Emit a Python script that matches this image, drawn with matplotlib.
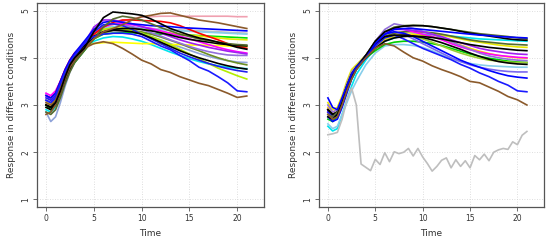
import matplotlib
matplotlib.use("Agg")
import matplotlib.pyplot as plt

time = [0, 0.5, 1, 1.5, 2, 2.5, 3, 4, 5, 6, 7, 8, 9, 10, 11, 12, 13, 14, 15, 16, 17, 18, 19, 20, 21]

# ---------------- left panel series ----------------
left_black1 = [3.0, 2.95, 3.05, 3.3, 3.6, 3.85, 4.0, 4.2, 4.55, 4.85, 4.97, 4.95, 4.93, 4.9, 4.82, 4.72, 4.62, 4.55, 4.48, 4.42, 4.38, 4.33, 4.28, 4.22, 4.18]
left_brown1 = [2.8, 2.85, 3.0, 3.25, 3.55, 3.8, 3.95, 4.2, 4.4, 4.55, 4.62, 4.7, 4.8, 4.87, 4.9, 4.94, 4.95, 4.9, 4.85, 4.8, 4.77, 4.74, 4.7, 4.66, 4.62]
left_pink = [3.0, 3.0, 3.1, 3.35, 3.6, 3.85, 4.0, 4.2, 4.45, 4.6, 4.7, 4.78, 4.83, 4.86, 4.87, 4.88, 4.88, 4.88, 4.88, 4.88, 4.88, 4.88, 4.88, 4.87, 4.87]
left_blue1 = [3.2, 3.15, 3.25, 3.5, 3.75, 3.95, 4.1, 4.35, 4.6, 4.75, 4.78, 4.75, 4.72, 4.7, 4.68, 4.67, 4.66, 4.64, 4.63, 4.62, 4.61, 4.6, 4.59, 4.58, 4.57]
left_purple = [3.2, 3.1, 3.2, 3.45, 3.7, 3.9, 4.05, 4.3, 4.65, 4.8, 4.8, 4.76, 4.72, 4.66, 4.6, 4.52, 4.45, 4.38, 4.32, 4.27, 4.22, 4.18, 4.14, 4.11, 4.08]
left_magenta = [3.25, 3.2, 3.3, 3.5, 3.75, 3.95, 4.1, 4.3, 4.5, 4.65, 4.72, 4.72, 4.7, 4.66, 4.62, 4.57, 4.52, 4.46, 4.4, 4.34, 4.28, 4.22, 4.17, 4.13, 4.1]
left_red = [3.2, 3.15, 3.25, 3.5, 3.75, 3.95, 4.1, 4.3, 4.5, 4.65, 4.75, 4.8, 4.8, 4.79, 4.78, 4.77, 4.74, 4.68, 4.6, 4.52, 4.45, 4.38, 4.3, 4.24, 4.2]
left_green = [3.0, 2.9, 3.0, 3.25, 3.5, 3.75, 3.9, 4.15, 4.4, 4.5, 4.52, 4.53, 4.53, 4.52, 4.51, 4.5, 4.5, 4.49, 4.48, 4.47, 4.46, 4.45, 4.44, 4.43, 4.42]
left_yellow1 = [3.1, 3.05, 3.15, 3.4, 3.7, 3.95, 4.1, 4.25, 4.3, 4.32, 4.33, 4.32, 4.31, 4.3, 4.3, 4.29, 4.28, 4.28, 4.27, 4.27, 4.26, 4.26, 4.25, 4.24, 4.24]
left_yellow2 = [3.1, 3.0, 3.1, 3.35, 3.65, 3.9, 4.05, 4.3, 4.5, 4.6, 4.62, 4.63, 4.62, 4.6, 4.58, 4.55, 4.52, 4.5, 4.48, 4.46, 4.44, 4.42, 4.4, 4.39, 4.38]
left_skyblue = [3.0, 2.95, 3.05, 3.3, 3.6, 3.85, 4.0, 4.25, 4.5, 4.62, 4.66, 4.66, 4.65, 4.63, 4.61, 4.6, 4.58, 4.57, 4.56, 4.55, 4.54, 4.53, 4.52, 4.51, 4.5]
left_black2 = [3.0, 2.95, 3.05, 3.3, 3.6, 3.85, 4.0, 4.25, 4.45, 4.55, 4.6, 4.62, 4.62, 4.6, 4.57, 4.53, 4.48, 4.43, 4.39, 4.36, 4.33, 4.3, 4.28, 4.26, 4.25]
left_olive1 = [2.85, 2.8, 2.9, 3.15, 3.45, 3.7, 3.9, 4.15, 4.4, 4.65, 4.82, 4.88, 4.85, 4.8, 4.72, 4.64, 4.57, 4.5, 4.45, 4.4, 4.36, 4.33, 4.3, 4.28, 4.27]
left_olive2 = [3.0, 2.95, 3.05, 3.3, 3.55, 3.8, 3.95, 4.2, 4.4, 4.52, 4.58, 4.6, 4.58, 4.55, 4.5, 4.44, 4.37, 4.3, 4.22, 4.15, 4.07, 4.0, 3.94, 3.89, 3.85]
left_steel = [2.85, 2.65, 2.75, 3.05, 3.4, 3.7, 3.9, 4.15, 4.4, 4.55, 4.6, 4.58, 4.55, 4.5, 4.45, 4.38, 4.3, 4.23, 4.16, 4.09, 4.03, 3.98, 3.94, 3.91, 3.9]
left_blue2 = [3.15, 3.1, 3.2, 3.45, 3.7, 3.9, 4.05, 4.3, 4.55, 4.7, 4.72, 4.68, 4.6, 4.5, 4.4, 4.3, 4.2, 4.1, 4.02, 3.95, 3.88, 3.82, 3.77, 3.73, 3.7]
left_black3 = [2.95, 2.9, 3.0, 3.25, 3.5, 3.75, 3.95, 4.2, 4.45, 4.55, 4.58, 4.57, 4.55, 4.5, 4.42, 4.33, 4.24, 4.15, 4.07, 4.0, 3.94, 3.88, 3.83, 3.79, 3.76]
left_ygreen = [3.1, 3.05, 3.15, 3.4, 3.65, 3.9, 4.05, 4.3, 4.5, 4.6, 4.63, 4.62, 4.58, 4.52, 4.45, 4.37, 4.28, 4.18, 4.08, 3.98, 3.88, 3.78, 3.7, 3.62, 3.55]
left_blue3 = [3.1, 3.05, 3.15, 3.4, 3.65, 3.9, 4.05, 4.3, 4.45, 4.5, 4.52, 4.52, 4.5, 4.45, 4.35, 4.25, 4.17, 4.05, 3.94, 3.8, 3.72, 3.6, 3.47, 3.3, 3.28]
left_brown2 = [3.05, 3.0, 3.1, 3.35, 3.6, 3.85, 4.0, 4.2, 4.3, 4.34, 4.3, 4.2, 4.08, 3.95, 3.87, 3.75, 3.69, 3.6, 3.53, 3.46, 3.41, 3.33, 3.25, 3.16, 3.19]
left_mpurple = [3.1, 3.05, 3.15, 3.4, 3.65, 3.9, 4.05, 4.3, 4.55, 4.68, 4.72, 4.7, 4.66, 4.6, 4.53, 4.46, 4.38, 4.31, 4.24, 4.18, 4.13, 4.09, 4.06, 4.05, 4.05]
left_cyan = [2.9, 2.85, 2.95, 3.2, 3.5, 3.75, 3.95, 4.2, 4.35, 4.42, 4.45, 4.44, 4.4, 4.35, 4.28, 4.2, 4.12, 4.05, 3.98, 3.92, 3.87, 3.83, 3.8, 3.78, 3.77]
left_gray = [3.05, 3.0, 3.1, 3.35, 3.6, 3.85, 4.0, 4.25, 4.45, 4.55, 4.6, 4.62, 4.63, 4.63, 4.62, 4.61, 4.6, 4.59, 4.58, 4.57, 4.56, 4.55, 4.54, 4.53, 4.52]

# ---------------- right panel series ----------------
right_blue1 = [3.15, 2.95, 2.9, 3.15, 3.4, 3.65, 3.8, 4.0, 4.3, 4.5, 4.6, 4.62, 4.62, 4.6, 4.58, 4.56, 4.54, 4.52, 4.5, 4.48, 4.47, 4.45, 4.44, 4.43, 4.42]
right_olive1 = [2.8, 2.75, 2.85, 3.1, 3.4, 3.65, 3.8, 4.05, 4.35, 4.55, 4.65, 4.68, 4.69, 4.68, 4.66, 4.63, 4.6, 4.57, 4.54, 4.51, 4.49, 4.47, 4.45, 4.42, 4.4]
right_black1 = [2.75, 2.7, 2.8, 3.05, 3.35, 3.6, 3.78, 4.05, 4.35, 4.55, 4.63, 4.67, 4.68, 4.68, 4.66, 4.63, 4.6, 4.56, 4.52, 4.49, 4.46, 4.43, 4.4, 4.38, 4.37]
right_skyblue = [2.55, 2.45, 2.5, 2.8, 3.1, 3.4, 3.65, 3.95, 4.2, 4.35, 4.42, 4.47, 4.5, 4.5, 4.49, 4.48, 4.46, 4.44, 4.42, 4.4, 4.39, 4.38, 4.37, 4.36, 4.35]
right_yellow1 = [3.05, 2.9, 2.95, 3.2, 3.5, 3.75, 3.85, 4.05, 4.3, 4.45, 4.52, 4.55, 4.55, 4.54, 4.52, 4.48, 4.44, 4.4, 4.36, 4.33, 4.3, 4.27, 4.25, 4.23, 4.22]
right_black2 = [2.9, 2.8, 2.85, 3.1, 3.4, 3.65, 3.8, 4.0, 4.2, 4.35, 4.42, 4.45, 4.46, 4.45, 4.43, 4.4, 4.36, 4.32, 4.28, 4.25, 4.22, 4.2, 4.18, 4.16, 4.15]
right_purple = [2.85, 2.75, 2.8, 3.05, 3.35, 3.6, 3.78, 4.0, 4.35, 4.55, 4.6, 4.6, 4.58, 4.55, 4.5, 4.45, 4.38, 4.32, 4.26, 4.2, 4.16, 4.13, 4.1, 4.08, 4.07]
right_yellow2 = [2.95, 2.85, 2.9, 3.15, 3.45, 3.7, 3.82, 4.05, 4.25, 4.4, 4.47, 4.5, 4.5, 4.48, 4.45, 4.4, 4.33, 4.27, 4.2, 4.14, 4.09, 4.05, 4.02, 4.0, 3.99]
right_green = [2.7, 2.65, 2.75, 3.0, 3.3, 3.55, 3.75, 4.0, 4.15, 4.28, 4.33, 4.35, 4.35, 4.33, 4.3, 4.26, 4.2, 4.14, 4.08, 4.03, 3.99, 3.96, 3.93, 3.91, 3.9]
right_black3 = [2.9, 2.8, 2.85, 3.1, 3.4, 3.65, 3.8, 4.05, 4.3, 4.45, 4.48, 4.48, 4.46, 4.43, 4.38, 4.32, 4.25, 4.18, 4.1, 4.03, 3.97, 3.92, 3.89, 3.87, 3.86]
right_lightblue = [2.6, 2.5, 2.55, 2.8, 3.05, 3.3, 3.5, 3.85, 4.1, 4.25, 4.28, 4.28, 4.26, 4.22, 4.15, 4.06, 3.98, 3.92, 3.88, 3.85, 3.83, 3.82, 3.81, 3.8, 3.8]
right_slateblue = [2.9, 2.8, 2.85, 3.1, 3.4, 3.65, 3.8, 4.05, 4.3, 4.5, 4.55, 4.5, 4.4, 4.3, 4.2, 4.1, 4.0, 3.92, 3.85, 3.8, 3.76, 3.73, 3.71, 3.7, 3.7]
right_blue2 = [2.75, 2.65, 2.7, 2.95, 3.25, 3.55, 3.75, 4.0, 4.3, 4.5, 4.55, 4.52, 4.45, 4.35, 4.25, 4.15, 4.05, 3.95, 3.87, 3.8, 3.73, 3.67, 3.62, 3.59, 3.57]
right_blue3 = [2.85, 2.75, 2.8, 3.05, 3.35, 3.6, 3.78, 4.0, 4.25, 4.42, 4.48, 4.4, 4.3, 4.2, 4.12, 4.04, 3.96, 3.86, 3.78, 3.68, 3.6, 3.5, 3.42, 3.3, 3.28]
right_brown = [2.8, 2.7, 2.75, 3.0, 3.3, 3.55, 3.75, 4.0, 4.2, 4.3, 4.25, 4.12, 4.0, 3.93, 3.83, 3.75, 3.68, 3.6, 3.5, 3.47, 3.38, 3.29, 3.18, 3.11, 3.0]
right_magenta = [2.9, 2.8, 2.85, 3.1, 3.4, 3.65, 3.8, 4.0, 4.25, 4.5, 4.62, 4.6, 4.55, 4.5, 4.45, 4.38, 4.3, 4.23, 4.17, 4.12, 4.08, 4.05, 4.03, 4.01, 4.0]
right_mpurple = [3.0, 2.85, 2.9, 3.15, 3.45, 3.7, 3.82, 4.05, 4.35, 4.6, 4.72, 4.68, 4.62, 4.56, 4.5, 4.42, 4.34, 4.26, 4.18, 4.1, 4.04, 4.0, 3.97, 3.95, 3.94]
right_olive2 = [2.9, 2.8, 2.85, 3.1, 3.4, 3.65, 3.8, 4.05, 4.3, 4.45, 4.52, 4.55, 4.56, 4.55, 4.53, 4.5, 4.46, 4.42, 4.38, 4.35, 4.33, 4.31, 4.29, 4.28, 4.27]
right_ygreen = [2.85, 2.75, 2.8, 3.05, 3.35, 3.6, 3.78, 4.0, 4.22, 4.38, 4.45, 4.47, 4.45, 4.4, 4.33, 4.25, 4.17, 4.1, 4.04, 3.99, 3.95, 3.93, 3.91, 3.9, 3.9]

gray_time = [0, 0.5, 1, 1.5, 2, 2.5, 3, 3.5, 4, 4.5, 5, 5.5, 6, 6.5, 7, 7.5, 8, 8.5, 9, 9.5, 10,
             10.5, 11, 11.5, 12, 12.5, 13, 13.5, 14, 14.5, 15, 15.5, 16, 16.5, 17, 17.5, 18, 18.5,
             19, 19.5, 20, 20.5, 21]
right_gray = [2.37, 2.39, 2.42, 2.7, 3.1, 3.36, 3.0, 1.75, 1.68, 1.61, 1.85, 1.74, 1.99, 1.80, 2.01,
              1.97, 2.0, 2.08, 1.92, 2.08, 1.9, 1.76, 1.6, 1.7, 1.83, 1.88, 1.67, 1.84, 1.7, 1.82,
              1.67, 1.93, 1.84, 1.96, 1.82, 2.0, 2.05, 2.08, 2.06, 2.22, 2.16, 2.36, 2.44]

x_ticks = [0, 5, 10, 15, 20]
y_ticks = [1, 2, 3, 4, 5]
x_label = "Time"
y_label = "Response in different conditions"

left_lines = [
    (left_gray, "#bebebe"), (left_cyan, "#00e5ee"), (left_pink, "#f0a0b0"),
    (left_steel, "#8fa3d9"), (left_skyblue, "#87ceeb"), (left_yellow1, "#ffff00"),
    (left_green, "#00e000"), (left_yellow2, "#e8e800"), (left_olive2, "#6b8e23"),
    (left_ygreen, "#b4ee00"), (left_mpurple, "#9370db"), (left_magenta, "#ff00ff"),
    (left_red, "#ff0000"), (left_purple, "#a020f0"), (left_blue1, "#0000ff"),
    (left_blue2, "#2020ee"), (left_black2, "#000000"), (left_black3, "#000000"),
    (left_olive1, "#556b2f"), (left_blue3, "#1a1aff"), (left_brown2, "#8b5a2b"),
    (left_brown1, "#8b5a2b"), (left_black1, "#000000"),
]
right_lines = [
    (right_skyblue, "#00e5ee"), (right_lightblue, "#87ceeb"), (right_green, "#00d000"),
    (right_ygreen, "#9acd32"), (right_yellow2, "#ffd700"), (right_yellow1, "#e8e800"),
    (right_olive2, "#556b2f"), (right_magenta, "#ff00ff"), (right_mpurple, "#9370db"),
    (right_purple, "#a020f0"), (right_slateblue, "#7b68ee"), (right_blue2, "#0000ff"),
    (right_blue3, "#1a1aff"), (right_black3, "#000000"), (right_black2, "#000000"),
    (right_olive1, "#556b2f"), (right_black1, "#000000"), (right_blue1, "#0000ff"),
    (right_brown, "#8b5a2b"),
]

fig = plt.figure(figsize=(5.5, 2.42), dpi=100)
ax1 = fig.add_axes([0.0673, 0.1446, 0.4127, 0.843])
ax2 = fig.add_axes([0.580, 0.1446, 0.409, 0.843])


def style(ax):
    ax.set_xlim(-0.94, 22.8)
    ax.set_ylim(0.84, 5.16)
    ax.set_xticks(x_ticks)
    ax.set_yticks(y_ticks)
    ax.grid(True, color="#d3d3d3", linestyle=(0, (1, 2)), linewidth=0.6)
    ax.set_axisbelow(True)
    for s in ax.spines.values():
        s.set_color("#555555")
        s.set_linewidth(0.9)
    ax.tick_params(axis="both", direction="out", length=3, width=0.6,
                   colors="#555555", labelsize=5.5, labelcolor="#333333", pad=2)
    for lab in ax.get_yticklabels():
        lab.set_rotation(90)
        lab.set_va("center")
    ax.set_xlabel(x_label, fontsize=6.5, color="#333333", labelpad=4)
    ax.set_ylabel(y_label, fontsize=6.5, color="#333333", labelpad=4)


for vals, col in left_lines:
    ax1.plot(time, vals, color=col, linewidth=1.2)
for vals, col in right_lines:
    ax2.plot(time, vals, color=col, linewidth=1.2)
ax2.plot(gray_time, right_gray, color="#bebebe", linewidth=1.2)

style(ax1)
style(ax2)

fig.savefig("out.png", dpi=100)
